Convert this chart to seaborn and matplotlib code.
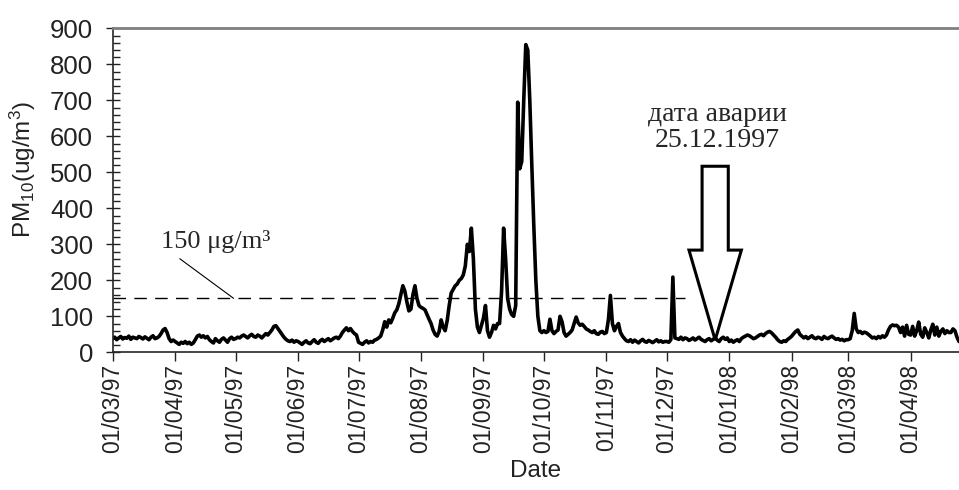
import pandas as pd
import matplotlib
matplotlib.use("Agg")
import matplotlib.pyplot as plt
import matplotlib.dates as mdates
from matplotlib.ticker import MultipleLocator
from matplotlib.patches import FancyArrow
import seaborn as sns

# Daily PM10 values (ug/m3), one list per month
pm_mar97 = [38, 42, 35, 40, 44, 37, 41, 39, 45, 36, 42, 40, 38, 44, 41, 37, 43, 39, 35, 42,
            46, 38, 40, 44, 52, 62, 66, 55, 38, 30, 34]
pm_apr97 = [30, 26, 22, 28, 25, 30, 24, 28, 22, 26, 35, 45, 48, 42, 46, 40, 44, 35, 30, 26,
            38, 32, 28, 36, 40, 34, 28, 38, 42, 36]
pm_may97 = [38, 42, 40, 45, 48, 44, 40, 46, 50, 44, 42, 48, 45, 40, 46, 52, 48, 55, 62, 72,
            74, 66, 58, 50, 42, 36, 32, 30, 34, 28, 32]
pm_jun97 = [30, 26, 22, 28, 32, 26, 24, 30, 35, 28, 25, 32, 36, 30, 34, 38, 32, 36, 40, 42,
            38, 45, 55, 62, 68, 60, 66, 58, 52, 48]
pm_jul97 = [28, 25, 22, 28, 32, 26, 30, 28, 34, 36, 40, 45, 62, 85, 70, 90, 82, 95, 110, 118,
            135, 160, 185, 170, 140, 115, 120, 160, 185, 150, 130]
pm_aug97 = [125, 122, 118, 105, 92, 80, 62, 50, 45, 58, 90, 70, 60, 88, 130, 165, 175, 185, 190, 200,
            205, 215, 240, 300, 280, 345, 260, 120, 70, 55, 75]
pm_sep97 = [95, 130, 60, 42, 55, 75, 65, 80, 80, 170, 345, 260, 150, 120, 105, 100, 130, 695, 510, 530,
            700, 855, 840, 700, 520, 350, 200, 100, 60, 55]
pm_oct97 = [60, 55, 58, 92, 60, 52, 58, 62, 100, 85, 55, 45, 50, 55, 62, 80, 98, 82, 75, 78,
            72, 65, 62, 58, 55, 60, 52, 50, 56, 58, 52]
pm_nov97 = [55, 90, 158, 80, 60, 72, 80, 55, 45, 38, 32, 30, 35, 28, 34, 30, 26, 32, 36, 30,
            28, 33, 30, 27, 31, 35, 29, 32, 28, 30]
pm_dec97 = [30, 28, 35, 209, 40, 38, 36, 42, 35, 40, 38, 33, 36, 40, 34, 38, 42, 36, 33, 30,
            35, 38, 32, 36, 40, 34, 30, 38, 42, 36, 40]
pm_jan98 = [30, 34, 28, 32, 35, 30, 38, 42, 45, 48, 46, 42, 38, 40, 44, 48, 50, 46, 52, 56,
            58, 54, 48, 42, 35, 30, 28, 32, 30, 36, 40]
pm_feb98 = [45, 52, 58, 62, 50, 45, 40, 44, 38, 42, 46, 40, 38, 42, 40, 36, 44, 40, 38, 42,
            45, 40, 36, 38, 34, 36, 32, 35]
pm_mar98 = [35, 38, 60, 108, 65, 55, 58, 52, 56, 54, 50, 45, 40, 42, 38, 44, 40, 46, 42, 48,
            62, 72, 76, 74, 75, 70, 55, 70, 45, 75, 50]
pm_apr98 = [48, 72, 45, 60, 84, 50, 42, 68, 55, 40, 62, 78, 48, 70, 45, 58, 65, 52, 60, 55,
            55, 65, 60, 42, 30]

start_date = "1997-03-01"
end_date = "1998-04-25"
threshold = 150
threshold_end = "1997-12-10"
crash_date = "1997-12-25"

values = (pm_mar97 + pm_apr97 + pm_may97 + pm_jun97 + pm_jul97 + pm_aug97 + pm_sep97
          + pm_oct97 + pm_nov97 + pm_dec97 + pm_jan98 + pm_feb98 + pm_mar98 + pm_apr98)
df = pd.DataFrame({"date": pd.date_range(start_date, periods=len(values), freq="D"),
                   "pm10": values})

# Style
sns.set_style("ticks")
plt.rcParams["font.family"] = ["Liberation Sans", "DejaVu Sans"]
plt.rcParams["mathtext.fontset"] = "custom"
plt.rcParams["mathtext.rm"] = "Liberation Sans"
plt.rcParams["mathtext.it"] = "Liberation Sans:italic"

fig = plt.figure(figsize=(9.59, 4.90), dpi=100)
ax = fig.add_axes([0.1175, 0.281, 0.8825, 0.661])

sns.lineplot(data=df, x="date", y="pm10", color="black", linewidth=2.6, ax=ax)

# 150 ug/m3 limit
ax.hlines(threshold, pd.Timestamp(start_date), pd.Timestamp(threshold_end),
          colors="black", linestyles=(0, (9, 6)), linewidth=1.0)
ax.annotate("150 μg/m³", xy=(pd.Timestamp("1997-04-30"), threshold),
            xytext=(pd.Timestamp("1997-03-25"), 308), ha="left", va="center",
            fontsize=19, family="Liberation Serif",
            arrowprops=dict(arrowstyle="-", color="black", lw=0.8,
                            shrinkA=3, shrinkB=0, relpos=(0.1, 0.0)))

# accident date
crash_x = mdates.date2num(pd.Timestamp(crash_date))
ax.add_patch(FancyArrow(crash_x, 517, 0, 34 - 517, width=13, head_width=26, head_length=250,
                        length_includes_head=True, facecolor="white", edgecolor="black",
                        linewidth=2.2, zorder=3))
ax.text(pd.Timestamp("1997-12-26"), 625, "дата аварии\n25.12.1997", ha="center", va="center",
        fontsize=20, family="Liberation Serif", linespacing=1.05)

# Axes
ax.set_xlim(pd.Timestamp(start_date), pd.Timestamp(end_date))
ax.set_ylim(0, 900)
ax.yaxis.set_major_locator(MultipleLocator(100))
ax.yaxis.set_minor_locator(MultipleLocator(20))
ax.xaxis.set_major_locator(mdates.MonthLocator())
ax.xaxis.set_major_formatter(mdates.DateFormatter("%d/%m/%y"))

ax.tick_params(axis="x", direction="out", length=6.5, width=1, rotation=90,
               labelsize=16.5, pad=2, colors="#222222")
ax.tick_params(axis="y", which="major", direction="inout", length=10, width=1,
               labelsize=18.5, pad=9, colors="#222222")
ax.tick_params(axis="y", which="minor", direction="in", length=5, width=1, colors="#222222")

ax.spines["right"].set_visible(False)
ax.spines["top"].set_color("#808080")
ax.spines["top"].set_linewidth(2)
ax.spines["left"].set_linewidth(1.2)
ax.spines["bottom"].set_linewidth(1.2)

ax.set_xlabel("Date", fontsize=17.5, color="#222222", labelpad=5)
ax.set_ylabel("PM$_{10}$(ug/m$^3$)", fontsize=17.5, color="#222222")
ax.yaxis.set_label_coords(-0.0885, 0.565)

fig.savefig("out.png", dpi=100)
